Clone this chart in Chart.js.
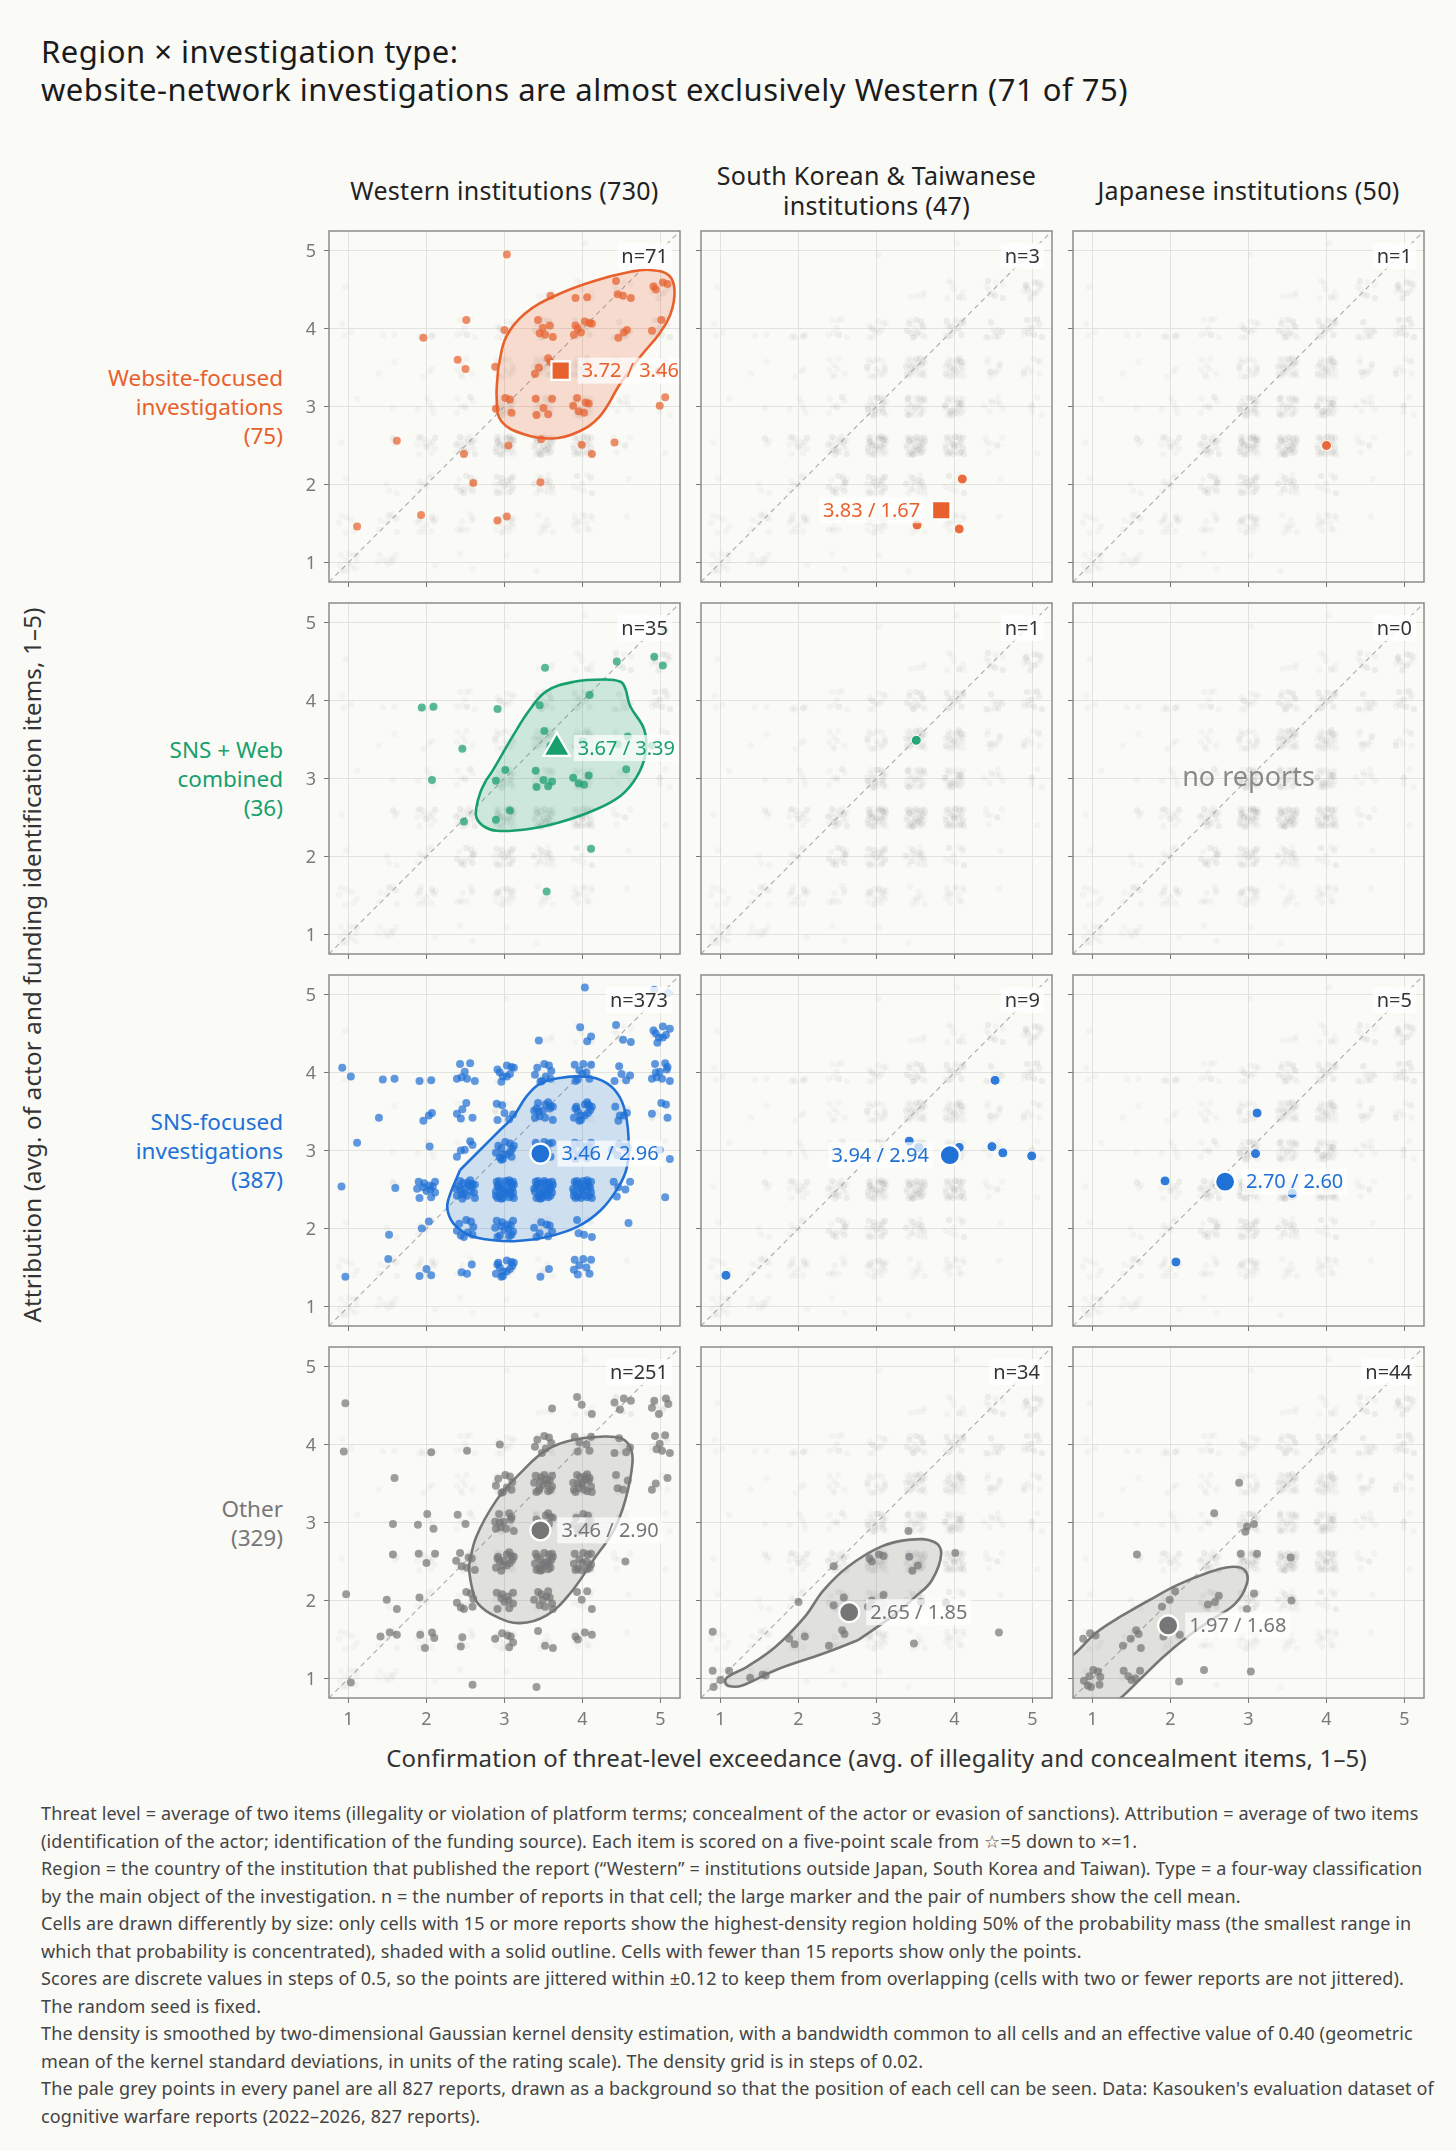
<!DOCTYPE html>
<html>
<head>
<meta charset="utf-8">
<script src="https://cdn.jsdelivr.net/npm/chart.js@4.4.1/dist/chart.umd.min.js"></script>
<style>
  body { margin: 0; background: #fafaf7; font-family: "Noto Sans", "DejaVu Sans", sans-serif; }
  #page { position: relative; width: 1456px; height: 2151px; overflow: hidden; background: #fafaf7; }
  .t { position: absolute; white-space: nowrap; }
  canvas { position: absolute; }
</style>
</head>
<body>
<div id="page"></div>
<script>
const FONT = '"Noto Sans", "DejaVu Sans", sans-serif';

const titleLines = ['Region × investigation type:', 'website-network investigations are almost exclusively Western (71 of 75)'];
const regionNames = [['Western institutions (730)'], ['South Korean & Taiwanese', 'institutions (47)'], ['Japanese institutions (50)']];
const typeNames = [['Website-focused', 'investigations', '(75)'], ['SNS + Web', 'combined', '(36)'], ['SNS-focused', 'investigations', '(387)'], ['Other', '(329)']];
const xTitle = 'Confirmation of threat-level exceedance (avg. of illegality and concealment items, 1–5)';
const yTitle = 'Attribution (avg. of actor and funding identification items, 1–5)';
const tickVals = [1, 2, 3, 4, 5];

// reports per cell [type][region]
const cellN = [[71, 3, 1], [35, 1, 0], [373, 9, 5], [251, 34, 44]];
// cell means [threat, attribution]
const cellMeans = [
  [[3.72, 3.46], [3.83, 1.67], null],
  [[3.67, 3.39], null, null],
  [[3.46, 2.96], [3.94, 2.94], [2.70, 2.60]],
  [[3.46, 2.90], [2.65, 1.85], [1.97, 1.68]]
];

// big cells: [threat, attribution, count] on the 0.5 grid
const westWeb = [[3,5,1],[3.5,4.5,1],[4,4.5,2],[4.5,4.5,4],[5,4.5,4],
  [2,4,1],[2.5,4,1],[3,4,1],[3.5,4,6],[4,4,7],[4.5,4,3],[5,4,2],
  [2.5,3.5,2],[3,3.5,1],[3.5,3.5,4],[5,3.5,1],
  [3,3,4],[3.5,3,5],[4,3,6],[5,3,2],
  [1.5,2.5,1],[2.5,2.5,1],[3,2.5,1],[3.5,2.5,1],[4,2.5,2],[4.5,2.5,1],
  [2.5,2,1],[3.5,2,1],[1,1.5,1],[2,1.5,1],[3,1.5,2]];
const westSnsWeb = [[5,5,1],[3.5,4.5,1],[4.5,4.5,1],[5,4.5,2],
  [2,4,2],[3,4,1],[3.5,4,1],[4,4,1],
  [2.5,3.5,1],[3.5,3.5,2],[4,3.5,1],[4.5,3.5,2],[5,3.5,1],
  [2,3,1],[3,3,2],[3.5,3,5],[4,3,4],[4.5,3,1],
  [2.5,2.5,1],[3,2.5,2],[4,2,1],[3.5,1.5,1]];
const westSns = [[4,5,1],[5,5,2],
  [3.5,4.5,1],[4,4.5,3],[4.5,4.5,3],[5,4.5,8],
  [1,4,2],[1.5,4,2],[2,4,2],[2.5,4,7],[3,4,9],[3.5,4,9],[4,4,9],[4.5,4,5],[5,4,10],
  [1.5,3.5,1],[2,3.5,3],[2.5,3.5,5],[3,3.5,6],[3.5,3.5,14],[4,3.5,15],[4.5,3.5,5],[5,3.5,4],
  [1,3,1],[2,3,1],[2.5,3,5],[3,3,14],[3.5,3,10],[4,3,12],[4.5,3,5],[5,3,2],
  [1,2.5,1],[1.5,2.5,1],[2,2.5,12],[2.5,2.5,20],[3,2.5,30],[3.5,2.5,30],[4,2.5,27],[4.5,2.5,5],[5,2.5,1],
  [1.5,2,1],[2,2,2],[2.5,2,9],[3,2,14],[3.5,2,8],[4,2,4],[4.5,2,1],
  [1,1.5,1],[1.5,1.5,1],[2,1.5,3],[2.5,1.5,3],[3,1.5,13],[3.5,1.5,2],[4,1.5,8]];
const westOther = [[1,4.5,1],[3.5,4.5,1],[4,4.5,3],[4.5,4.5,4],[5,4.5,5],
  [1,4,1],[2,4,1],[2.5,4,1],[3,4,1],[3.5,4,7],[4,4,6],[4.5,4,4],[5,4,6],
  [1.5,3.5,1],[3,3.5,9],[3.5,3.5,16],[4,3.5,18],[4.5,3.5,4],[5,3.5,3],
  [1.5,3,1],[2,3,3],[2.5,3,2],[3,3,11],[3.5,3,9],[4,3,12],
  [1.5,2.5,1],[2,2.5,3],[2.5,2.5,7],[3,2.5,14],[3.5,2.5,20],[4,2.5,14],[4.5,2.5,1],
  [1,2,1],[1.5,2,2],[2,2,1],[2.5,2,7],[3,2,10],[3.5,2,11],[4,2,4],
  [1.5,1.5,3],[2,1.5,4],[2.5,1.5,2],[3,1.5,6],[3.5,1.5,3],[4,1.5,4],
  [1,1,1],[2.5,1,1],[3.5,1,1]];
const skOther = [[3.5,3,1],[2.5,2.5,1],[3,2.5,4],[3.5,2.5,3],[4,2.5,1],[2,2,1],[2.5,2,2],[3,2,3],[3.5,2,1],[4,2,1],
  [1,1.5,1],[2,1.5,3],[2.5,1.5,3],[3.5,1.5,1],[4.5,1.5,1],[1,1,4],[1.5,1,3]];
const jpOther = [[3,3.5,1],[2.5,3,1],[3,3,3],[1.5,2.5,1],[3,2.5,2],[3.5,2.5,1],[2,2,3],[2.5,2,3],[3,2,2],[3.5,2,1],
  [1,1.5,3],[1.5,1.5,5],[2,1.5,2],[1,1,8],[1.5,1,5],[2,1,1],[2.5,1,1],[3,1,1]];

// small cells: points as plotted [threat, attribution]
const skWeb = [[4.10,2.07],[3.52,1.48],[4.06,1.43]];
const jpWeb = [[4.00,2.50]];
const skSnsWeb = [[3.51,3.49]];
const jpSnsWeb = [];
const skSns = [[4.52,3.90],[3.42,3.12],[3.54,3.04],[4.06,3.04],[4.48,3.05],[4.62,2.97],[4.99,2.93],[1.07,1.40],[3.95,2.90]];
const jpSns = [[3.11,3.48],[3.09,2.96],[1.93,2.61],[2.07,1.57],[3.56,2.45]];

// 50% highest-density region outlines
const westWebHdr = [[2.92,3.5],[3.02,3.89],[3.26,4.19],[3.67,4.43],[4.15,4.61],[4.63,4.73],[4.87,4.75],[5.11,4.68],[5.18,4.48],[5.13,4.19],[4.99,3.94],[4.75,3.65],[4.49,3.3],[4.21,2.86],[3.91,2.66],[3.61,2.59],[3.26,2.64],[2.96,2.81],[2.9,3.1]];
const westSnsWebHdr = [[2.76,2.97],[2.86,3.12],[3.11,3.55],[3.33,3.89],[3.54,4.12],[3.89,4.24],[4.27,4.27],[4.49,4.24],[4.55,4.15],[4.61,3.93],[4.79,3.63],[4.81,3.33],[4.7,3.03],[4.49,2.78],[4.14,2.59],[3.71,2.44],[3.29,2.35],[2.9,2.33],[2.73,2.39],[2.64,2.5],[2.64,2.63],[2.69,2.82]];
const westSnsHdr = [[2.43,2.75],[2.68,3.0],[2.94,3.26],[3.11,3.43],[3.28,3.69],[3.46,3.86],[3.71,3.93],[3.93,3.95],[4.19,3.92],[4.4,3.79],[4.53,3.56],[4.59,3.17],[4.57,2.79],[4.46,2.53],[4.23,2.23],[3.93,2.02],[3.54,1.89],[3.16,1.84],[2.86,1.85],[2.56,1.91],[2.35,2.06],[2.27,2.23],[2.28,2.37]];
const westOtherHdr = [[2.54,2.43],[2.64,2.82],[2.9,3.29],[3.2,3.63],[3.54,3.93],[3.89,4.06],[4.23,4.1],[4.49,4.08],[4.61,3.97],[4.64,3.76],[4.55,3.29],[4.4,2.9],[4.14,2.52],[3.84,2.09],[3.54,1.81],[3.2,1.71],[2.9,1.79],[2.66,1.96],[2.58,2.18]];
const skOtherHdr = [[2.76,1.49],[2.32,1.32],[1.71,1.11],[1.28,0.91],[1.12,0.9],[1.06,0.95],[1.09,1.02],[1.34,1.15],[1.71,1.41],[2.08,1.79],[2.32,2.13],[2.63,2.43],[3.06,2.69],[3.43,2.78],[3.74,2.75],[3.83,2.6],[3.71,2.26],[3.5,2.05],[3.19,1.79]];
const jpOtherHdr = [[1.35,1.79],[1.72,2.0],[2.09,2.2],[2.46,2.35],[2.77,2.43],[2.95,2.39],[2.98,2.22],[2.83,1.96],[2.52,1.75],[2.21,1.53],[1.91,1.28],[1.6,0.98],[1.35,0.74],[1.1,0.55],[0.67,0.51],[0.37,0.81],[0.43,1.11],[0.58,1.21],[0.75,1.3],[1.04,1.58]];

const cellData = [[westWeb, skWeb, jpWeb], [westSnsWeb, skSnsWeb, jpSnsWeb], [westSns, skSns, jpSns], [westOther, skOther, jpOther]];
const cellHdr = [[westWebHdr, null, null], [westSnsWebHdr, null, null], [westSnsHdr, null, null], [westOtherHdr, skOtherHdr, jpOtherHdr]];

const notes = [
  'Threat level = average of two items (illegality or violation of platform terms; concealment of the actor or evasion of sanctions). Attribution = average of two items',
  '(identification of the actor; identification of the funding source). Each item is scored on a five-point scale from ☆=5 down to ×=1.',
  'Region = the country of the institution that published the report (“Western” = institutions outside Japan, South Korea and Taiwan). Type = a four-way classification',
  'by the main object of the investigation. n = the number of reports in that cell; the large marker and the pair of numbers show the cell mean.',
  'Cells are drawn differently by size: only cells with 15 or more reports show the highest-density region holding 50% of the probability mass (the smallest range in',
  'which that probability is concentrated), shaded with a solid outline. Cells with fewer than 15 reports show only the points.',
  'Scores are discrete values in steps of 0.5, so the points are jittered within ±0.12 to keep them from overlapping (cells with two or fewer reports are not jittered).',
  'The random seed is fixed.',
  'The density is smoothed by two-dimensional Gaussian kernel density estimation, with a bandwidth common to all cells and an effective value of 0.40 (geometric',
  'mean of the kernel standard deviations, in units of the rating scale). The density grid is in steps of 0.02.',
  'The pale grey points in every panel are all 827 reports, drawn as a background so that the position of each cell can be seen. Data: Kasouken\'s evaluation dataset of',
  'cognitive warfare reports (2022–2026, 827 reports).'
];

// fixed spread for stacked grid scores
const JIT = [[0.03,-0.05],[-0.08,0.06],[0.10,0.02],[-0.02,-0.11],[0.07,0.09],[-0.11,-0.03],[0.01,0.11],[0.09,-0.08],
  [-0.06,-0.09],[-0.04,0.03],[0.05,0.00],[0.11,0.10],[-0.10,0.10],[0.00,-0.02],[-0.09,-0.11],[0.06,-0.10],
  [0.11,-0.04],[-0.03,0.08],[0.04,0.05],[-0.12,0.01],[0.08,0.04],[-0.05,-0.06],[0.02,-0.08],[-0.07,0.11],
  [0.12,-0.11],[-0.01,0.01],[0.06,0.12],[-0.11,-0.08],[0.09,0.07],[-0.06,0.00],[0.03,0.09],[-0.09,0.04],
  [0.12,0.06],[-0.02,-0.05],[0.07,-0.02],[-0.04,-0.12]];

const typeColors = ['#e8612c', '#17a06c', '#2071d6', '#767676'];
const typeMarkers = ['rect', 'triangle', 'circle', 'circle'];
const markerSize = [13, 15.5, 10, 10];
const labelLeft = [[false, true, false], [false, false, false], [false, true, false], [false, false, false]];

const PL = [329, 701, 1073], PT = [231, 603, 975, 1347], PS = 351, AX = 40;

function rgba(hex, a) {
  const n = parseInt(hex.slice(1), 16);
  return `rgba(${n >> 16},${(n >> 8) & 255},${n & 255},${a})`;
}

function expand(list, seed) {
  const out = [];
  list.forEach((p, ci) => {
    if (p.length === 2) { out.push({ x: p[0], y: p[1] }); return; }
    for (let k = 0; k < p[2]; k++) {
      const j = JIT[(seed * 5 + ci * 7 + k) % JIT.length];
      out.push({ x: p[0] + j[0], y: p[1] + j[1] });
    }
  });
  return out;
}

const page = document.getElementById('page');
function addLines(lines, css) {
  const d = document.createElement('div');
  d.className = 't';
  Object.assign(d.style, css);
  lines.forEach(s => { const l = document.createElement('div'); l.textContent = s; d.appendChild(l); });
  page.appendChild(d);
  return d;
}

addLines(titleLines, { left: '41px', top: '32px', fontSize: '31px', lineHeight: '38px', letterSpacing: '0.5px', color: '#1b1b1b' });
regionNames.forEach((lines, c) => addLines(lines, {
  left: (PL[c] - 30) + 'px', top: '160px', width: (PS + 60) + 'px', height: '60px', display: 'flex', flexDirection: 'column',
  justifyContent: 'center', alignItems: 'center', fontSize: '25px', lineHeight: '30px', letterSpacing: '0.3px', color: '#222'
}));
typeNames.forEach((lines, r) => addLines(lines, {
  left: '0px', top: PT[r] + 'px', width: '283px', height: PS + 'px', display: 'flex', flexDirection: 'column',
  justifyContent: 'center', alignItems: 'flex-end', textAlign: 'right', fontSize: '22.5px', lineHeight: '29px', color: typeColors[r]
}));
addLines([xTitle], { left: PL[0] + 'px', width: (PL[2] + PS - PL[0]) + 'px', top: '1742px', lineHeight: '32px', textAlign: 'center', fontSize: '24px', letterSpacing: '0.15px', color: '#333' });
addLines([yTitle], { left: (32 - 450) + 'px', width: '900px', top: (965 - 16) + 'px', lineHeight: '32px', textAlign: 'center', fontSize: '24px', letterSpacing: '0.2px', color: '#333', transform: 'rotate(-90deg)' });
addLines(notes, { left: '41px', top: '1800px', fontSize: '18px', lineHeight: '27.5px', letterSpacing: '0.15px', color: '#444' });

const cellPts = cellData.map((row, r) => row.map((src, c) => expand(src, r * 3 + c)));
const bgPoints = [].concat(...cellPts.map(row => [].concat(...row)));

function boxText(ctx, text, px, py, align, color, size, bg) {
  ctx.font = `${size}px ${FONT}`;
  const w = ctx.measureText(text).width;
  const h = size * 1.3;
  const bx = align === 'left' ? px : px - w;
  if (bg) { ctx.fillStyle = bg; ctx.fillRect(bx - 4, py - h / 2, w + 8, h); }
  ctx.fillStyle = color;
  ctx.textAlign = align;
  ctx.textBaseline = 'middle';
  ctx.fillText(text, px, py + 1);
}

const panelDecor = {
  id: 'panelDecor',
  afterDatasetsDraw(chart, args, o) {
    const { ctx, chartArea: a, scales: { x, y } } = chart;
    const r = o.r, c = o.c, col = typeColors[r];
    ctx.save();
    const m = cellMeans[r][c];
    if (m) {
      const px = x.getPixelForValue(m[0]), py = y.getPixelForValue(m[1]);
      const left = labelLeft[r][c];
      boxText(ctx, m[0].toFixed(2) + ' / ' + m[1].toFixed(2), left ? px - 21 : px + 21, py, left ? 'right' : 'left', col, 20, 'rgba(255,255,255,0.72)');
    }
    boxText(ctx, 'n=' + cellN[r][c], a.right - 12, a.top + 25, 'right', '#333', 20, 'rgba(255,255,255,0.8)');
    if (cellN[r][c] === 0) {
      ctx.font = `27px ${FONT}`;
      ctx.fillStyle = '#8a8a8a';
      ctx.textAlign = 'center';
      ctx.textBaseline = 'middle';
      ctx.fillText('no reports', (a.left + a.right) / 2, (a.top + a.bottom) / 2);
    }
    ctx.restore();
  },
  afterDraw(chart, args, o) {
    const { ctx, chartArea: a, scales: { x, y } } = chart;
    ctx.save();
    ctx.strokeStyle = '#8c8c8a';
    ctx.lineWidth = 1.5;
    ctx.strokeRect(a.left, a.top, a.right - a.left, a.bottom - a.top);
    // tick labels, placed through the scales
    ctx.font = `18px ${FONT}`;
    ctx.fillStyle = '#7a7a7a';
    ctx.textBaseline = 'middle';
    if (o.c === 0) {
      ctx.textAlign = 'right';
      tickVals.forEach(v => ctx.fillText(String(v), a.left - 13, y.getPixelForValue(v) + 1));
    }
    if (o.r === 3) {
      ctx.textAlign = 'center';
      tickVals.forEach(v => ctx.fillText(String(v), x.getPixelForValue(v), a.bottom + 22));
    }
    ctx.restore();
  }
};

function axisOpts(axis) {
  return {
    type: 'linear', min: 0.75, max: 5.25,
    afterBuildTicks: s => { s.ticks = tickVals.map(v => ({ value: v })); },
    afterFit: s => {
      if (axis === 'x') s.height = AX; else s.width = AX;
      s.paddingTop = 0; s.paddingBottom = 0; s.paddingLeft = 0; s.paddingRight = 0;
    },
    grid: { color: '#e2e2de', lineWidth: 1, drawTicks: true, tickLength: 5, tickColor: '#777', tickWidth: 1 },
    border: { display: false },
    ticks: { display: false }
  };
}

for (let r = 0; r < 4; r++) {
  for (let c = 0; c < 3; c++) {
    const cv = document.createElement('canvas');
    cv.width = PS + AX + 2;
    cv.height = PS + AX + 2;
    cv.style.left = (PL[c] - AX) + 'px';
    cv.style.top = (PT[r] - 2) + 'px';
    page.appendChild(cv);

    const col = typeColors[r];
    const small = cellN[r][c] < 15;
    const datasets = [];
    const m = cellMeans[r][c];
    if (m) {
      datasets.push({
        data: [{ x: m[0], y: m[1] }], pointStyle: typeMarkers[r], pointRadius: markerSize[r],
        pointBackgroundColor: col, pointBorderColor: '#ffffff', pointBorderWidth: 2.2, clip: 0
      });
    }
    datasets.push({
      data: cellPts[r][c], pointRadius: small ? 5 : 4,
      pointBackgroundColor: rgba(col, small ? 0.92 : 0.7),
      pointBorderColor: small ? '#ffffff' : 'rgba(0,0,0,0)', pointBorderWidth: small ? 1 : 0, clip: 0
    });
    const hdr = cellHdr[r][c];
    if (hdr) {
      const loop = hdr.map(p => ({ x: p[0], y: p[1] }));
      loop.push({ x: hdr[0][0], y: hdr[0][1] });
      datasets.push({
        data: loop, showLine: true, fill: 'shape', backgroundColor: rgba(col, 0.2),
        borderColor: col, borderWidth: 2.6, pointRadius: 0, tension: 0.4, clip: 0
      });
    }
    datasets.push({
      data: [{ x: 0.75, y: 0.75 }, { x: 5.25, y: 5.25 }], showLine: true, fill: false,
      borderColor: '#a9a9a9', borderWidth: 1.1, borderDash: [5, 4], pointRadius: 0, clip: 0
    });
    datasets.push({
      data: bgPoints, pointRadius: 3.2, pointBackgroundColor: 'rgba(120,120,120,0.055)', pointBorderWidth: 0, clip: 0
    });

    new Chart(cv, {
      type: 'scatter',
      data: { datasets },
      options: {
        responsive: false,
        animation: false,
        layout: { autoPadding: false, padding: { top: 2, right: 2, left: 0, bottom: 0 } },
        plugins: { legend: { display: false }, tooltip: { enabled: false }, panelDecor: { r, c } },
        scales: { x: axisOpts('x'), y: axisOpts('y') }
      },
      plugins: [panelDecor]
    });
  }
}
</script>
</body>
</html>
